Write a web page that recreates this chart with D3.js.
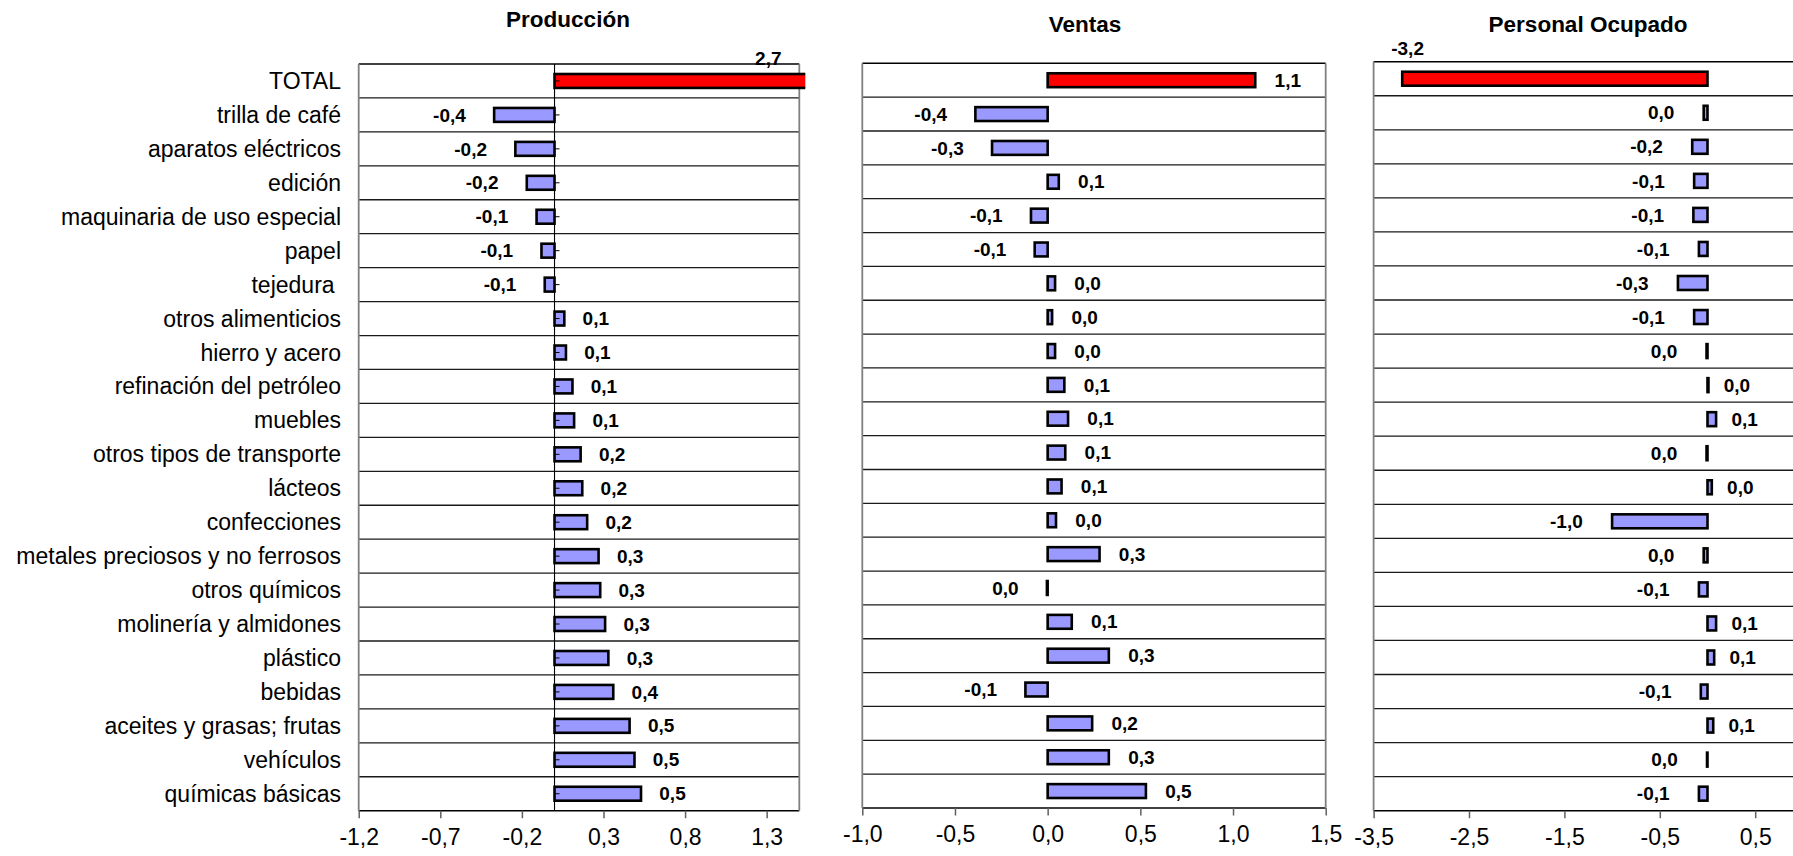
<!DOCTYPE html>
<html>
<head>
<meta charset="utf-8">
<script src="https://cdn.jsdelivr.net/npm/d3@7"></script>
<style>
  html, body { margin: 0; padding: 0; background: #fff; }
  svg { display: block; }
  text { font-family: "Liberation Sans", Arial, Helvetica, sans-serif; }
</style>
</head>
<body>
<svg id="chart" width="1793" height="856"></svg>
<script>
// ---------------- DATA ----------------
const categories = [
  "TOTAL", "trilla de café", "aparatos eléctricos", "edición",
  "maquinaria de uso especial", "papel", "tejedura ", "otros alimenticios",
  "hierro y acero", "refinación del petróleo", "muebles",
  "otros tipos de transporte", "lácteos", "confecciones",
  "metales preciosos y no ferrosos", "otros químicos", "molinería y almidones",
  "plástico", "bebidas", "aceites y grasas; frutas", "vehículos", "químicas básicas"
];
const produccion = [2.7, -0.37, -0.24, -0.17, -0.11, -0.08, -0.06, 0.06, 0.07, 0.11, 0.12,
  0.16, 0.17, 0.2, 0.27, 0.28, 0.31, 0.33, 0.36, 0.46, 0.49, 0.53];
const ventas = [1.12, -0.39, -0.3, 0.06, -0.09, -0.07, 0.04, 0.024, 0.04, 0.09, 0.11,
  0.095, 0.075, 0.045, 0.28, -0.004, 0.13, 0.33, -0.12, 0.24, 0.33, 0.53];
const personal = [-3.2, -0.04, -0.16, -0.14, -0.148, -0.09, -0.31, -0.14, -0.01, 0.01, 0.09,
  -0.01, 0.045, -1.0, -0.04, -0.09, 0.09, 0.07, -0.07, 0.06, -0.005, -0.09];
const titles = ["Producción", "Ventas", "Personal Ocupado"];
const produccionTicks = [-1.2, -0.7, -0.2, 0.3, 0.8, 1.3];
const ventasTicks = [-1.0, -0.5, 0.0, 0.5, 1.0, 1.5];
const personalTicks = [-3.5, -2.5, -1.5, -0.5, 0.5];
const produccionDomain = [-1.2, 1.5];
const ventasDomain = [-1.0, 1.5];
const personalDomain = [-3.5, 1.5];

// ---------------- LAYOUT ----------------
const panels = [
  { title: titles[0], values: produccion, ticks: produccionTicks, domain: produccionDomain,
    x0: 358.7, x1: 799.3, top: 64, bottom: 810.7, titleX: 568, titleY: 26.5,
    zeroLine: true, gapPos: 17, gapNeg: 27 },
  { title: titles[1], values: ventas, ticks: ventasTicks, domain: ventasDomain,
    x0: 862.3, x1: 1325.7, top: 63.3, bottom: 808, titleX: 1085, titleY: 31.5,
    zeroLine: false, gapPos: 18, gapNeg: 27 },
  { title: titles[2], values: personal, ticks: personalTicks, domain: personalDomain,
    x0: 1373.6, x1: 1850.6, top: 61.7, bottom: 810.7, titleX: 1588, titleY: 31.5,
    zeroLine: false, gapPos: 14, gapNeg: 28 }
];

const fmt = v => {
  let r = Math.round(v * 10) / 10;
  if (Math.abs(r) < 1e-9) r = 0;
  return r.toFixed(1).replace(".", ",");
};

const svg = d3.select("#chart");
svg.append("rect").attr("width", 1793).attr("height", 856).attr("fill", "#fff");

panels.forEach((p, pi) => {
  const x = d3.scaleLinear().domain(p.domain).range([p.x0, p.x1]);
  const y = d3.scaleBand().domain(categories).range([p.top, p.bottom]).padding(0);
  const bw = y.bandwidth();
  const barH = bw * 0.41;
  const g = svg.append("g");

  const clipId = "clip" + pi;
  svg.append("defs").append("clipPath").attr("id", clipId)
    .append("rect").attr("x", p.x0).attr("y", p.top - 2)
    .attr("width", p.x1 - p.x0 + 6).attr("height", p.bottom - p.top + 4);

  g.selectAll("line.row").data(categories.slice(1)).enter().append("line")
    .attr("x1", p.x0).attr("x2", p.x1)
    .attr("y1", d => y(d)).attr("y2", d => y(d))
    .attr("stroke", "#1a1a1a").attr("stroke-width", 1.3);
  [p.top, p.bottom].forEach(yy => {
    g.append("line").attr("x1", p.x0).attr("x2", p.x1).attr("y1", yy).attr("y2", yy)
      .attr("stroke", "#000").attr("stroke-width", 1.6);
  });
  [p.x0, p.x1].forEach(xx => {
    g.append("line").attr("x1", xx).attr("x2", xx).attr("y1", p.top).attr("y2", p.bottom)
      .attr("stroke", "#808080").attr("stroke-width", 1.8);
  });

  if (p.zeroLine) {
    g.append("line").attr("x1", x(0)).attr("x2", x(0)).attr("y1", p.top).attr("y2", p.bottom)
      .attr("stroke", "#000").attr("stroke-width", 1.1);
  }

  const axis = d3.axisBottom(x).tickValues(p.ticks).tickSize(7.5).tickPadding(10)
    .tickFormat(fmt);
  const ax = g.append("g").attr("transform", `translate(0,${p.bottom})`).call(axis);
  ax.select(".domain").remove();
  ax.selectAll(".tick line").attr("stroke", "#606060").attr("stroke-width", 1.5);
  ax.selectAll(".tick text").attr("font-size", 23).attr("fill", "#000")
    .attr("font-family", '"Liberation Sans", Arial, sans-serif');

  const bars = g.append("g").attr("clip-path", `url(#${clipId})`);
  bars.selectAll("rect").data(p.values).enter().append("rect")
    .attr("x", d => Math.min(x(0), x(d)))
    .attr("width", d => Math.abs(x(d) - x(0)))
    .attr("y", (d, i) => y(categories[i]) + (bw - barH) / 2)
    .attr("height", barH)
    .attr("fill", (d, i) => i === 0 ? "#FF0000" : "#9999FF")
    .attr("stroke", "#000").attr("stroke-width", 2.6);

  if (p.zeroLine) {
    g.selectAll("line.ctick").data(categories).enter().append("line")
      .attr("x1", x(0)).attr("x2", x(0) + 5)
      .attr("y1", d => y(d) + bw / 2).attr("y2", d => y(d) + bw / 2)
      .attr("stroke", "#000").attr("stroke-width", 1);
  }

  g.selectAll("text.val").data(p.values).enter().append("text")
    .attr("font-size", 19).attr("font-weight", "bold").attr("fill", "#000")
    .each(function (d, i) {
      const t = d3.select(this);
      const cy = y(categories[i]) + bw / 2;
      const end = x(d);
      if (i === 0 && d > p.domain[1]) {
        t.attr("x", p.x1 - 31).attr("y", p.top + 1).attr("text-anchor", "middle");
      } else if (i === 0 && x(d) - p.gapNeg - 35 < p.x0) {
        t.attr("x", end - 11).attr("y", p.top - 7).attr("text-anchor", "start");
      } else if (d >= 0) {
        t.attr("x", end + 1.3 + p.gapPos).attr("y", cy).attr("dy", "0.35em").attr("text-anchor", "start");
      } else {
        t.attr("x", end - 1.3 - p.gapNeg).attr("y", cy).attr("dy", "0.35em").attr("text-anchor", "end");
      }
      t.text(fmt(d));
    });

  svg.append("text").attr("x", p.titleX).attr("y", p.titleY)
    .attr("text-anchor", "middle").attr("font-size", 22.5).attr("font-weight", "bold")
    .text(p.title);

  if (pi === 0) {
    svg.append("g").selectAll("text").data(categories).enter().append("text")
      .attr("x", 341).attr("y", d => y(d) + bw / 2).attr("dy", "0.35em")
      .attr("text-anchor", "end").attr("font-size", 23)
      .style("white-space", "pre")
      .text(d => d);
  }
});
</script>
</body>
</html>
